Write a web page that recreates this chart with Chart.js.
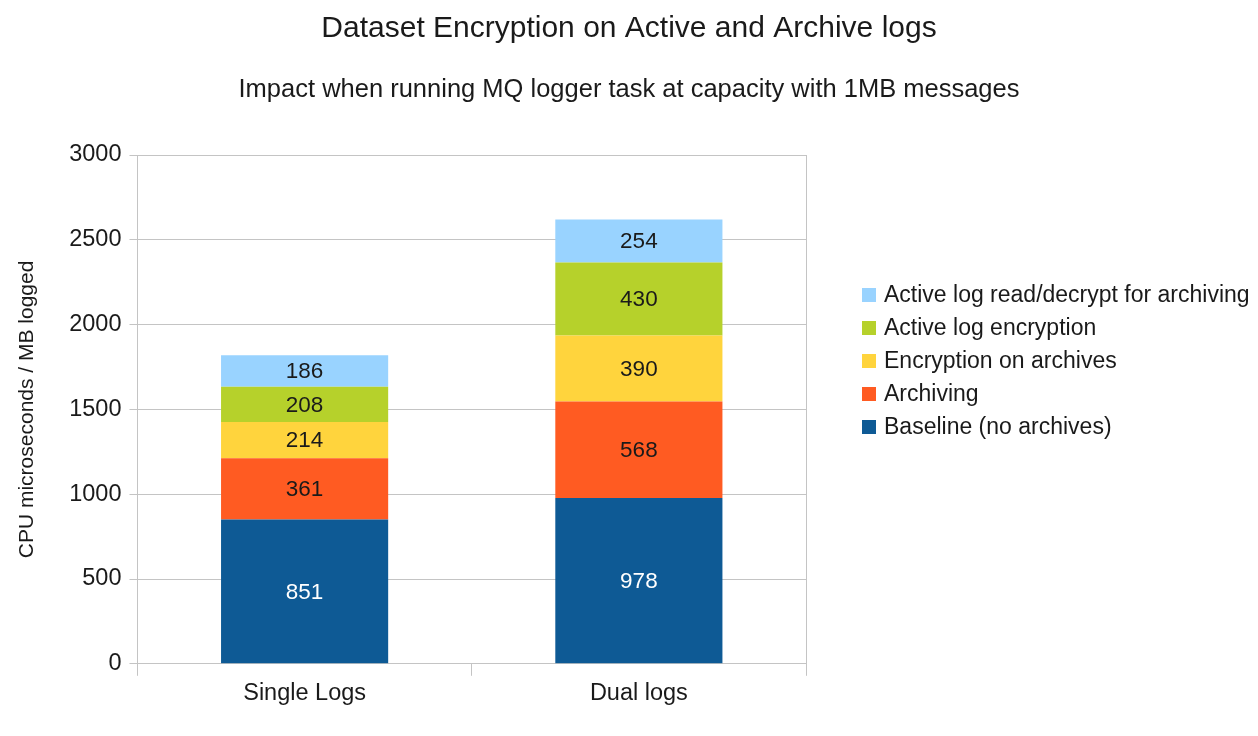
<!DOCTYPE html>
<html lang="en">
<head>
    <meta charset="UTF-8">
    <script src="https://cdn.jsdelivr.net/npm/chart.js"></script>
    <title>Dataset Encryption on Active and Archive logs</title>
    <style>
        body { margin: 0; background: #fff; }
        #caixa { width: 1258px; height: 736px; }
    </style>
</head>
<body>
<div id="caixa">
    <canvas id="grafico"></canvas>
</div>

<script>
    var categorias = ["Single Logs", "Dual logs"];

    var baseline = [851, 978];
    var archiving = [361, 568];
    var encArchives = [214, 390];
    var encActive = [208, 430];
    var readDecrypt = [186, 254];

    var seriesNomes = [
        "Baseline (no archives)",
        "Archiving",
        "Encryption on archives",
        "Active log encryption",
        "Active log read/decrypt for archiving"
    ];
    var seriesCores = ["#0e5a95", "#ff5b22", "#ffd43d", "#b6d12b", "#99d3ff"];

    var yTicks = [0, 500, 1000, 1500, 2000, 2500, 3000];

    var fonte = "'Liberation Sans', Arial, sans-serif";
    var corGrade = "#c4c4c4";
    var corTexto = "#1a1a1a";

    // valores dentro de cada bloco
    var rotulosPlugin = {
        id: "rotulos",
        afterDatasetsDraw: function (chart) {
            var ctx = chart.ctx;
            ctx.save();
            ctx.font = "22.5px " + fonte;
            ctx.textAlign = "center";
            ctx.textBaseline = "middle";
            chart.data.datasets.forEach(function (ds, i) {
                var meta = chart.getDatasetMeta(i);
                meta.data.forEach(function (bar, j) {
                    ctx.fillStyle = i === 0 ? "#ffffff" : corTexto;
                    ctx.fillText(ds.data[j], bar.x, (bar.y + bar.base) / 2 + 1);
                });
            });
            ctx.restore();
        }
    };

    // legenda à direita, ordem invertida
    var legendaPlugin = {
        id: "legenda",
        afterDraw: function (chart) {
            var ctx = chart.ctx;
            var n = chart.data.datasets.length;
            ctx.save();
            ctx.font = "23px " + fonte;
            ctx.textBaseline = "middle";
            for (var k = 0; k < n; k++) {
                var ds = chart.data.datasets[n - 1 - k];
                var y = 295 + k * 33;
                ctx.fillStyle = ds.backgroundColor;
                ctx.fillRect(862, y - 7, 14, 14);
                ctx.fillStyle = corTexto;
                ctx.fillText(ds.label, 884, y + 1);
            }
            ctx.restore();
        }
    };

    var listaSeries = [baseline, archiving, encArchives, encActive, readDecrypt];
    var datasets = [];
    for (var i = 0; i < listaSeries.length; i++) {
        datasets.push({
            label: seriesNomes[i],
            data: listaSeries[i],
            backgroundColor: seriesCores[i],
            borderWidth: 0,
            barPercentage: 0.5,
            categoryPercentage: 1.0
        });
    }

    new Chart(document.getElementById("grafico"), {
        type: "bar",
        data: { labels: categorias, datasets: datasets },
        options: {
            responsive: true,
            maintainAspectRatio: false,
            animation: false,
            layout: { padding: { left: 0, right: 0, top: 0, bottom: 24 } },
            plugins: {
                legend: { display: false },
                tooltip: { enabled: false },
                title: {
                    display: true,
                    text: "Dataset Encryption on Active and Archive logs",
                    color: corTexto,
                    font: { family: fonte, size: 30, weight: "normal" },
                    padding: { top: 11, bottom: 0 }
                },
                subtitle: {
                    display: true,
                    text: "Impact when running MQ logger task at capacity with 1MB messages",
                    color: corTexto,
                    font: { family: fonte, size: 25.5 },
                    padding: { top: 27.7, bottom: 49.7 }
                }
            },
            scales: {
                x: {
                    stacked: true,
                    grid: {
                        offset: true,
                        color: function (c) { return c.index === 1 ? "rgba(0,0,0,0)" : corGrade; },
                        tickColor: corGrade,
                        tickLength: 12
                    },
                    border: { color: corGrade },
                    ticks: { color: corTexto, padding: 4, font: { family: fonte, size: 23.5 } }
                },
                y: {
                    stacked: true,
                    min: 0,
                    max: 3000,
                    afterBuildTicks: function (axis) {
                        axis.ticks = yTicks.map(function (v) { return { value: v }; });
                    },
                    grid: { color: corGrade, tickColor: corGrade, tickLength: 8 },
                    border: { color: corGrade },
                    ticks: {
                        color: corTexto,
                        padding: 8,
                        font: { family: fonte, size: 23.5 },
                        callback: function (v) { return String(v); }
                    },
                    title: {
                        display: true,
                        text: "CPU microseconds / MB logged",
                        color: corTexto,
                        font: { family: fonte, size: 21 },
                        padding: { top: 15, bottom: 21 }
                    }
                },
                // borda direita da área do gráfico + espaço da legenda
                y2: {
                    position: "right",
                    min: 0,
                    max: 3000,
                    grid: { display: false },
                    ticks: { display: false },
                    border: { color: corGrade },
                    afterFit: function (axis) { axis.width = 452; }
                }
            }
        },
        plugins: [rotulosPlugin, legendaPlugin]
    });
</script>
</body>
</html>
